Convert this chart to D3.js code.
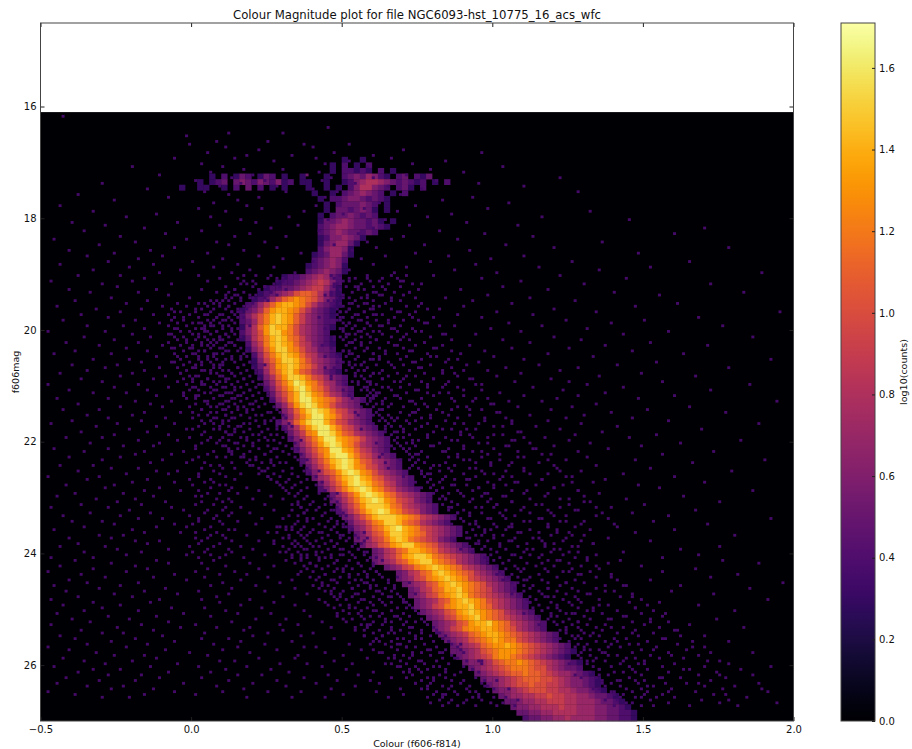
<!DOCTYPE html>
<html>
<head>
<meta charset="utf-8">
<script src="https://cdn.jsdelivr.net/npm/d3@7"></script>
<style>
  html, body { margin: 0; padding: 0; background: #fff; }
  svg { display: block; }
  text { font-family: "DejaVu Sans", sans-serif; fill: #111; }
  .tick text { font-size: 10px; }
  .tick line { stroke: #222; }
  .domain { display: none; }
</style>
</head>
<body>
<svg id="chart" width="912" height="749"></svg>
<script>
// Tick labels and ranges
var colourTicks = [-0.5, 0, 0.5, 1, 1.5, 2];
var magTicks = [16, 18, 20, 22, 24, 26];
var levelTicks = [0, 0.2, 0.4, 0.6, 0.8, 1, 1.2, 1.4, 1.6];
var colourRange = [-0.5, 2];
var magRange = [27, 14.505];
var levelRange = [0, 1.71];
var dataTop = 16.1;
// Colour level seen for a bin holding 1, 2, 3 stars
var countLevels = [0, 0.36, 0.55, 0.7];

// Scattered stars: one list per 0.05 mag row from dataTop down, colours in
// hundredths. A colour listed twice in a row is a bin with 2 counts.
var starRows = [
[],[-43],[],[],[],[45],[],[12,30],[-2],[],
[8,25],[-1,37,52],[11,40],[70,22],[5,47,96],[33,18,60],[-6,14,41,66],[27,84,52],[73,3,44],[-20,58,10,103],
[79,17,30],[6,90,42],[-11,71,20,38,38],[60,13,122,46],[1,81,24,43],[-30,54,95,16],[65,9,110,28],[40,-15,76],[128,4,48,31],[-38,69,12],
[93,-8,22,44],[-26,83,15],[7,105,62],[41,-44,74,18],[23,98,2,57],[132,-33,37,11,68],[-12,86,50],[78,-22,6,116,32],[145,16,64,45],[-40,91,-5,21],
[-29,72,9,108,35],[170,-16,26,60],[82,-36,3,42],[19,-9,97,160,55],[113,31,-24,14,70],[-46,66,-2,88],[24,136,-19,8,58],[77,-31,104,12,47],[-6,178,61,28,120],[92,-41,17,-14,53],
[36,-26,148,5,74],[110,-35,64,22,-10,85],[56,-18,30,99,10],[165,-28,79,0,40,126],[94,-44,15,60,-13],[27,-21,115,71,7,152],[135,-33,52,19,-4,87],[-11,189,34,67,13,101],[44,-38,122,2,80,-24],[58,-16,25,144,9,96,30],
[17,-47,69,28,109,5,-20,52],[130,-30,47,172,16,-7,76,21],[-25,63,24,11,103,54,20],[3,118,-41,55,22,-12,89,14],[183,-34,26,60,8,-18,140,72],[46,-8,155,98,14,62,19,11],[-27,84,20,-1,50,112,16,58],[127,-39,30,93,6,-15,66,12],[-22,161,57,4,106,18,52,9],[90,-45,24,147,-10,75,12,60],
[1,-32,120,60,27,82,-17,7,52],[195,-24,49,15,134,-6,69,101,13,57],[88,-37,21,54,9,113,-13,5,61],[17,-28,168,42,96,-3,73,8,49],[65,-43,25,124,7,150,-19,48,10,55],[105,-11,52,2,139,23,78,6,58],[-35,176,19,87,59,-23,116,10,4,63],[44,-16,99,13,131,67,-5,3,50],[26,-48,158,74,-29,109,56,4,8,62],[143,-20,51,11,83,-8,22,94,0,54],
[16,-36,70,186,-14,47,120,2,9,59],[61,-26,103,9,129,-2,86,28,5,47],[53,-42,20,152,-18,112,6,77,12,56],[14,-31,92,171,-10,43,137,68,3,7],[58,-22,125,25,-6,81,106,0,10,46],[50,-39,18,146,-15,97,72,4,52,11],[8,-46,118,64,163,-27,89,23,1,60],[100,-12,16,133,55,79,2,7,48,44],[27,-33,192,60,-21,110,5,85,13,62],[74,-17,19,154,-7,95,10,48,3,50],
[24,-40,141,52,-25,115,66,91,1,9,56],[15,-29,178,44,-11,76,128,7,104,0,47],[83,-35,21,122,-16,57,98,3,10,51],[13,-44,149,41,-20,109,-4,62,87,6,60],[54,-24,167,26,-9,135,71,9,101,2,46],[17,-37,119,80,-13,46,93,0,5,63,11],[28,-30,156,59,-5,125,69,11,107,3,53],[51,-48,22,185,-18,96,131,84,4,8,55],[14,-26,143,65,-8,113,43,78,0,10,58],[19,-41,172,56,-15,123,90,75,2,7,50],
[25,-33,137,48,-22,102,82,6,11,61,13],[16,-12,160,68,-3,128,110,60,9,1,52],[23,-45,148,53,-28,121,94,86,1,14,59,46],[12,-19,194,42,-7,116,105,73,27,4,57],[20,-38,134,58,-14,99,77,5,48,10,63],[15,-24,165,50,-10,126,88,108,-1,8,56],[18,-43,151,63,-31,119,92,81,3,11,47],[26,-16,177,47,-4,139,74,101,0,6,54],[21,-35,130,55,-20,112,85,11,2,60,49],[13,-28,146,66,-9,124,97,79,0,7,51],
[24,-40,158,45,-17,118,71,106,6,10,53,62],[19,-47,188,60,-25,129,87,95,-6,4,48],[16,-32,141,52,-12,114,76,103,2,9,64],[28,-21,169,49,-2,122,83,91,7,0,56],[14,-37,136,64,-15,109,70,4,11,58,45],[22,-26,154,57,-8,127,89,100,3,51,12],[18,-42,145,46,-30,117,78,93,-1,6,60],[25,-18,182,51,-5,125,86,107,5,9,43],[15,-34,162,61,-11,132,73,98,3,8,55],[20,-23,149,44,-13,120,80,104,10,1,66,52],
[27,-46,138,54,-28,113,67,90,1,12,48,60],[12,-36,173,59,-16,128,84,96,-3,7,50],[24,-19,156,48,-7,119,75,102,5,13,63,42],[17,-41,131,62,-24,108,88,8,2,54,11],[21,-30,190,53,-10,147,124,69,92,0,49],[26,-14,166,43,-2,115,77,99,13,4,58,64],[19,-44,134,56,-33,105,82,6,9,47,60],[10,-27,152,65,-18,121,72,94,3,51,14],[23,-38,179,50,-12,129,86,110,-5,7,62],[16,-22,143,58,-8,118,79,97,9,2,46],
[25,-48,160,45,-31,126,70,103,2,11,53,66],[14,-35,137,60,-15,116,83,91,-1,6,49,57],[28,-20,170,52,-6,133,74,107,7,4,63],[11,-42,148,63,-26,100,87,123,9,0,47],[18,-29,155,47,-11,120,76,95,6,13,55,70],[22,-16,186,55,-4,128,81,111,12,2,61,44],[15,-39,135,66,-23,98,89,5,9,50,58],[26,-45,163,49,-13,117,71,104,3,1,57,62],[20,-32,144,57,-19,125,84,93,8,12,46],[13,-25,175,61,-9,130,78,106,3,10,53,68],
[24,-37,150,44,-17,114,68,101,1,7,60,52,35],[16,-47,139,54,-28,122,85,96,-7,11,48,64,36],[27,-21,167,46,-3,127,75,109,10,5,58,33],[19,-34,146,62,-14,119,88,92,4,13,50,37],[12,-43,158,51,-24,134,73,103,-1,8,56,67,32],[23,-18,192,59,-10,116,80,99,7,2,64,38,30],[15,-40,153,48,-30,112,67,124,2,9,54,35,60],[21,-26,171,64,-6,129,86,94,10,0,50,34,70],[28,-36,141,50,-12,118,77,105,-2,6,62,37,31],[14,-46,160,56,-20,132,82,97,4,12,53,33,68],
[25,-16,147,43,-4,121,71,108,8,1,57,39,63],[18,-31,180,60,-23,126,83,100,6,10,49,36,71],[11,-41,138,52,-27,115,74,91,1,5,65,32,72,58],[22,-19,152,57,-11,123,87,106,3,13,46,38,69],[27,-38,133,62,-15,117,76,95,9,2,54,35,73],[16,-44,175,47,-29,128,79,102,-1,7,61,34,66,40],[20,-25,162,55,-8,120,89,111,5,12,50,37,75],[13,-36,143,64,-17,125,72,93,0,4,58,31,76,41],[24,-22,168,49,-2,116,84,107,6,11,53,38,74,33],[17,-47,156,61,-33,131,78,98,2,9,46,36,77,42],
[31,-12,142,7,176,-39,63,98,48,121],[-27,55,3,188,116,74,-8,39,19],[149,-44,27,92,11,60,-19,134,41],[5,-33,167,83,50,-15,108,22,70],[125,-22,36,61,-48,14,156,94,1],
[44,-6,181,77,-37,129,18,58,9,103],[-29,139,68,25,-13,91,52,4,172],[111,-41,33,16,152,80,-2,47,65],[-18,196,57,10,124,-35,88,29,72],[43,-46,144,6,99,21,-24,162,59],
[78,-9,118,34,-31,53,13,185,67],[-42,137,24,90,2,-16,61,159,46],[106,-26,74,12,173,38,-5,55,131],[30,-38,146,84,8,-20,66,117,49],[-11,191,57,19,100,-47,42,128,3],
[87,-33,155,27,63,-14,112,9,70],[-24,135,45,16,-43,79,168,34,94],[52,-7,121,4,-30,147,71,23,105],[-18,180,60,37,-36,11,96,133,82],[126,-45,26,-3,75,48,157,15,110],
[39,-28,143,68,6,-12,92,119,56],[-40,174,21,85,31,-21,50,103,138],[64,-8,128,13,-34,152,43,77,98],[-47,115,29,-17,58,165,1,88,35],[72,-25,139,46,8,-4,107,19,183],
[17,-37,95,54,-13,124,66,161,30],[-30,146,4,81,40,-23,113,25,76],[57,-10,132,-44,20,170,91,36,63],[-19,101,12,47,-39,156,74,3,122],[85,-27,141,33,-6,60,178,16,97],
[-35,118,52,24,-15,89,7,148,68],[41,-48,166,15,-22,105,71,37,130],[-9,153,79,28,-41,56,10,94,120],[62,-32,137,44,-1,186,19,83,109],[-26,128,5,73,-16,50,159,35,100],
[34,-43,116,58,-12,144,22,87,67],[-20,171,9,96,-36,47,131,76,14],[53,-5,125,29,-29,150,64,104,38],[-46,192,18,82,-14,69,112,2,43],[75,-24,135,51,-33,163,26,93,11],
[-8,147,32,60,-38,119,6,84,72],[45,-17,127,23,-28,175,99,55,15],[-42,110,66,37,-11,156,80,3,129],[28,-31,142,90,-19,59,12,117,48],[-3,168,74,20,-45,103,41,136,62],
[86,-23,122,8,-35,151,54,31,97],[-13,189,17,69,-27,46,114,78,133],[61,-48,140,25,-6,92,36,158,10],[-39,107,50,83,-16,177,1,124,70],[33,-21,149,65,-30,118,18,95,44]
];

// Denser stars hugging the sequence on both sides: one list per 0.05 mag row
// from wingTop down, same units as starRows
var wingTop = 19;
var wingRows = [
[17,26,21,66,49,58,71,46],[28,15,47,63,54,68,52],[20,30,59,45,70,50,62],[18,27,56,48,73,44,65],[24,29,51,69,47,60,55],[14,31,22,64,45,57,75,49],[26,12,17,53,67,46,61,72],[21,15,28,58,44,50,70,63],[11,24,19,13,48,66,56,74,52],[16,8,25,10,60,47,69,54,45],
[7,14,-5,20,2,64,49,76,53,58],[12,-2,17,5,9,47,71,55,62,50],[-7,15,3,11,18,59,48,66,78,52],[6,-4,13,1,16,51,74,57,49,68],[10,-8,4,14,-1,63,48,55,72,60],[2,12,-6,8,15,50,67,58,80,53],[-3,5,11,-7,13,56,49,70,61,75],[9,0,14,-5,3,52,65,77,50,58],[-2,7,12,-8,6,62,51,69,54,82],[4,-6,10,1,15,49,57,73,66,53],
[-4,8,13,-1,5,60,50,76,55,68],[2,-7,11,6,14,52,71,58,63,84],[9,-3,4,12,-6,56,49,66,79,51],[-5,7,1,15,10,61,54,72,50,69],[3,-2,13,-8,8,53,77,59,65,52],[11,5,-4,14,0,67,51,74,56,83],[-1,9,-7,6,16,54,62,70,58,80],[4,12,-3,2,15,50,73,57,64,86],[-6,10,7,17,0,60,53,78,52,68],[13,-2,5,-5,18,55,71,62,81,51],
[8,-4,16,2,11,59,54,69,76,88],[-1,14,6,-6,19,52,65,73,57,84],[10,3,17,-3,7,61,56,79,54,70],[15,-5,9,20,1,58,67,86,53,75],[4,12,-2,18,6,55,72,63,90,57],[16,8,-4,21,13,60,54,77,68,83],[1,19,10,-1,14,56,74,65,88,59],[12,5,22,-3,17,63,57,80,70,92],[7,15,0,20,9,58,76,55,67,85],[18,3,13,23,-2,61,72,59,94,78],
[6,21,11,16,1,57,69,83,63,88],[14,-1,24,8,19,60,74,58,96,66],[22,4,12,17,-3,62,78,59,85,71],[10,25,2,20,15,58,67,90,61,80],[18,7,23,-2,13,64,60,76,98,69],[5,16,26,11,21,59,72,87,63,93],[24,1,14,19,9,66,61,82,74,100],[12,27,6,22,17,60,78,65,91,70],[20,3,15,28,10,63,75,86,62,96],[8,25,18,13,29,61,69,83,102,73],
[23,11,30,5,16,65,62,79,92,72],[14,27,19,8,31,63,76,88,68,104],[26,3,21,12,29,67,64,84,97,74],[17,32,10,24,7,65,72,90,78,106],[28,15,22,33,12,69,66,81,100,76],[9,30,19,25,14,64,74,94,86,70],[31,17,34,11,23,68,80,67,108,89],[20,28,13,35,26,72,66,92,78,103],[33,16,24,10,30,70,84,68,98,110],[22,36,18,27,12,67,75,88,106,73],
[29,14,34,20,37,71,68,82,95,112],[17,31,25,38,11,74,69,90,79,105],[35,22,28,15,33,70,85,72,100,114],[19,39,26,13,30,76,71,93,83,108],[36,24,40,17,32,72,88,74,116,98],[21,34,28,41,16,78,73,96,85,110],[38,26,19,35,43,75,72,90,102,118],[23,31,42,18,29,77,84,74,106,94],[40,27,36,20,44,73,80,99,87,120],[25,33,46,22,38,79,75,92,110,85],
[30,42,24,37,47,76,82,96,122,104],[27,44,33,22,39,78,90,76,112,100],[41,29,48,35,25,84,77,94,106,124],[32,45,26,38,49,79,87,102,116,92],[43,31,50,28,36,82,78,98,126,108],[34,47,29,41,52,86,80,91,114,104],[46,33,38,53,30,83,79,100,120,95],[36,49,31,44,54,81,88,128,106,93],[48,35,42,55,32,85,80,97,118,110],[38,51,34,45,56,90,83,103,130,96],
[44,37,53,30,57,84,82,99,122,112],[40,55,35,48,58,92,86,106,132,98],[52,39,46,33,59,88,83,101,116,125],[42,57,36,50,60,86,94,110,134,100],[54,41,47,62,38,90,85,104,128,118],[44,59,37,52,63,96,88,112,136,102],[56,43,49,35,61,92,87,107,124,120],[46,60,40,54,64,89,98,115,138,104],[58,45,51,65,38,94,90,110,130,122],[48,62,42,55,66,100,92,118,140,106],
[33,51,44,29,47,106,95,118,101,127],[40,53,31,46,36,93,112,99,121,104],[28,48,35,52,42,109,97,125,91,115],[45,32,50,38,54,96,119,103,130,94],[37,55,30,43,49,113,92,107,100,124],
[51,34,46,27,41,98,116,129,105,95],[39,56,44,33,48,120,102,94,111,133],[30,47,53,36,42,97,108,126,92,117],[49,38,55,32,45,104,122,99,113,96],[43,35,52,29,57,110,93,128,101,119],
[41,57,36,50,46,99,123,106,134,112],[54,44,38,59,33,115,102,127,97,109],[36,52,48,42,58,105,131,100,118,122],[47,60,39,55,34,111,103,125,138,98],[56,41,51,37,45,120,107,101,129,114],
[38,53,59,43,48,104,135,117,110,126],[50,61,40,47,57,109,102,123,132,118],[44,55,35,52,62,128,106,115,101,139],[58,42,49,63,39,112,121,105,134,108],[46,60,54,41,56,103,127,116,110,141],
[52,65,43,58,48,118,108,130,106,124],[45,61,55,67,40,113,137,110,122,143],[59,47,53,64,42,107,126,118,134,112],[50,66,44,57,62,121,110,140,128,115],[63,49,68,54,46,116,109,132,124,146],
[53,69,47,60,65,127,112,120,142,118],[48,62,70,56,51,111,135,123,114,149],[66,55,44,59,71,119,129,112,145,125],[52,64,72,49,60,126,115,138,121,151],[68,58,54,73,47,113,133,118,128,147],
[61,74,50,66,56,122,116,141,131,153],[55,70,63,75,52,119,136,124,149,127],[72,59,48,67,62,115,130,121,144,156],[57,76,64,53,69,125,118,139,152,132],[74,60,51,71,66,120,128,146,123,158],
[63,78,56,70,59,131,121,150,137,126],[58,73,66,80,54,124,143,128,155,134],[76,62,69,57,81,122,136,160,129,147],[65,82,60,72,67,133,124,141,153,130],[79,57,74,63,84,126,148,135,162,128],
[68,83,61,76,70,129,140,127,157,144],[62,80,72,85,66,137,125,151,134,166],[77,64,86,69,59,131,145,128,161,139],[71,88,66,81,74,127,138,154,142,170],[84,60,78,68,89,135,130,149,164,132],
[73,90,63,82,76,129,146,136,158,172],[67,86,79,92,70,141,132,152,138,168],[88,72,65,83,94,134,129,147,163,155],[75,91,81,69,95,137,150,133,175,143],[85,71,96,77,66,131,142,160,148,178],
[80,98,74,90,68,139,133,156,145,170],[72,93,84,100,78,146,135,151,165,182],[89,76,70,95,102,132,143,158,140,174],[82,99,87,73,104,138,149,135,168,186],[94,78,106,84,71,134,155,145,162,177],
[86,101,76,97,80,141,136,150,172,147],[79,96,89,107,74,148,139,164,157,188],[92,83,78,103,98,137,153,142,170,180],[85,105,91,76,100,144,135,159,149,176],[98,81,94,87,108,139,151,167,146,191],
[88,106,80,95,84,150,140,156,173,143],[83,100,93,78,104,142,160,147,184,154],[96,86,108,82,91,137,152,169,141,178],[90,103,85,99,79,146,158,144,175,194],[101,88,94,107,83,140,149,165,153,181]
];

// Cluster sequence: 0.02 colour by 0.1 mag cells, one string per row from
// coreTop down. coreStarts gives the colour of the first cell in each row.
// Each character is log10(counts+1) in tenths, base 18.
var coreTop = 16.9;
var coreStarts = [
0.50,0.46,0.46,0.06,0.02,-0.04,0.40,0.42,0.44,0.44,
0.42,0.42,0.42,0.42,0.42,0.42,0.42,0.40,0.40,0.38,
0.38,0.30,0.28,0.24,0.22,0.20,0.18,0.16,0.16,0.16,
0.16,0.16,0.16,0.18,0.18,0.20,0.20,0.20,0.22,0.22,
0.24,0.24,0.26,0.26,0.28,0.30,0.30,0.28,0.30,0.32,
0.32,0.34,0.34,0.36,0.36,0.38,0.38,0.40,0.42,0.42,
0.46,0.46,0.48,0.48,0.50,0.52,0.52,0.54,0.54,0.56,
0.60,0.60,0.60,0.64,0.68,0.68,0.70,0.72,0.72,0.74,
0.74,0.76,0.78,0.80,0.80,0.82,0.84,0.86,0.86,0.88,
0.90,0.92,0.94,0.96,0.98,1.00,1.02,1.04,1.06,1.08,
1.10
];
var coreRows = [
"3003",
"3040304",
"30443430403",
"3040354035403003000300456576430450435",
"303450565465463403300300346788765454340304",
"30033003040504030300030030304688654045304",
"3003045676540304",
"304456654543",
"30455565403",
"30554565303",
"3045565454",
"3556765545303",
"456776554543",
"4567655454",
"34667653",
"3567753",
"467763",
"34577530",
"456764",
"34567630",
"4567653",
"3445678754",
"34456789864",
"3445567899753",
"345678abba8643",
"34579bcdcba8653",
"4579bdeedca86543",
"3568bdeedca86543",
"468acefedb976543",
"457acefedb976544",
"368bdfeeca876543",
"468adffdca87654",
"358acefecb976543",
"479cefedb986543",
"368bdffdca87554",
"47acefedb986543",
"369bdffeca87654",
"358adefecb97654",
"47acefdba87543",
"368bdffeca97654",
"57acegfdca8754",
"469bdfgecb97654",
"58acegfdca8754",
"479ceggedcb97654",
"57adfgfdca8765",
"68bdfgfeca97654",
"57aceggedb98654",
"468bdfggeca97654",
"468bdfggeca97654",
"579cdggfdba87654",
"468aceggedcb97654",
"579bdfgfdca87654",
"468acdggedb98654",
"579bdfggeca97654",
"468acefgfdba87654",
"579bdfgfdca97654",
"468abdfgfdca87654",
"578acefgedba87654",
"579bdfgfecb98654",
"468acefgfdca97654",
"579bdfgfecb987654",
"568acefgfdca98654",
"579bdfffecb987654",
"468acefgfdca98654",
"568acefffedcb987654",
"578acdffecba87654",
"4679bcefgedca987654",
"568abdffedcb987654",
"5679acefecba98654",
"578abdeffdcba87654",
"5689bceedcb987654",
"5689bdeffecba987654",
"5678abdeffdcba87654",
"5679acdefedcb987654",
"5689bcefedcba87654",
"5679acdefedca987654",
"5678abdefedcba87654",
"5689bceefdcba97654",
"5679acdefecba987654",
"5678abdefedca987654",
"5679acdeefdcb987654",
"5678abdefedcba87654",
"5679acdefdcba987654",
"5678abdeefdcb987654",
"5679acddeedcba87654",
"56789bcdeedcba987654",
"5678abcdedcca987654",
"56789bcddedcba987654",
"55678abcdddcba9876543",
"56789acddcba9876543",
"56678abccdcba9876543",
"56789abcccbaa876554",
"56789abbcbba98776543",
"566789abbbaa98766543",
"56789aabaa998766543",
"566789aaa9988766543",
"56778899a99887765543",
"55677889998877765543",
"56677888988777665543",
"55667788887776655443",
"4556677877776655443"
];

var margin = { left: 40.5, right: 793.5, top: 23, bottom: 721 };
var bar = { left: 841, right: 875 };

var svg = d3.select("#chart");
var x = d3.scaleLinear().domain(colourRange).range([margin.left, margin.right]);
var y = d3.scaleLinear().domain(magRange).range([margin.bottom, margin.top]);
var colour = d3.scaleSequential(d3.interpolateInferno).domain(levelRange);
var barY = d3.scaleLinear().domain(levelRange).range([margin.bottom, margin.top]);

// Empty bins are the bottom of the colour map
svg.append("rect")
  .attr("x", margin.left)
  .attr("y", y(dataTop))
  .attr("width", margin.right - margin.left)
  .attr("height", margin.bottom - y(dataTop))
  .attr("fill", colour(0));

// Cluster cells
var cells = [];
coreRows.forEach(function(row, i) {
  row.split("").forEach(function(ch, j) {
    var level = parseInt(ch, 18) / 10;
    if (level > 0) {
      cells.push({ colour: coreStarts[i] + j * 0.02, mag: coreTop + i * 0.1, level: level });
    }
  });
});

svg.append("g").selectAll("rect")
  .data(cells)
  .enter()
  .append("rect")
  .attr("x", function(d) { return x(d.colour); })
  .attr("y", function(d) { return y(d.mag); })
  .attr("width", x(0.02) - x(0) + 0.3)
  .attr("height", y(0.1) - y(0) + 0.3)
  .attr("fill", function(d) { return colour(d.level); });

// Scattered stars, counted per bin
var stars = [];
function addStars(rows, top) {
  rows.forEach(function(row, i) {
    d3.rollups(row, function(v) { return v.length; }, function(c) { return c; })
      .forEach(function(d) {
        stars.push({ colour: d[0] / 100, mag: top + i * 0.05, level: countLevels[Math.min(d[1], 3)] });
      });
  });
}
addStars(starRows, dataTop);
addStars(wingRows, wingTop);

// A star only shows where it is brighter than the cell it falls on
function cellLevel(s) {
  var i = Math.floor((s.mag - coreTop) / 0.1);
  if (i < 0 || i >= coreRows.length) return 0;
  var j = Math.floor((s.colour - coreStarts[i]) / 0.02);
  var ch = coreRows[i][j];
  return ch ? parseInt(ch, 18) / 10 : 0;
}

svg.append("g").selectAll("rect")
  .data(stars.filter(function(s) { return s.mag < 27 && cellLevel(s) < 0.7; }))
  .enter()
  .append("rect")
  .attr("x", function(d) { return x(d.colour); })
  .attr("y", function(d) { return y(d.mag); })
  .attr("width", x(0.01) - x(0))
  .attr("height", y(0.05) - y(0))
  .attr("fill", function(d) { return colour(d.level); });

// Axes, classic ticks pointing inwards on all sides
svg.append("g")
  .attr("transform", "translate(0," + margin.bottom + ")")
  .call(d3.axisBottom(x).tickValues(colourTicks).tickFormat(d3.format(".1f")).tickSizeInner(-4).tickSizeOuter(0).tickPadding(5));
svg.append("g")
  .attr("transform", "translate(0," + margin.top + ")")
  .call(d3.axisTop(x).tickValues(colourTicks).tickFormat("").tickSizeInner(-4).tickSizeOuter(0));
svg.append("g")
  .attr("transform", "translate(" + margin.left + ",0)")
  .call(d3.axisLeft(y).tickValues(magTicks).tickFormat(d3.format("d")).tickSizeInner(-4).tickSizeOuter(0).tickPadding(4));
svg.append("g")
  .attr("transform", "translate(" + margin.right + ",0)")
  .call(d3.axisRight(y).tickValues(magTicks).tickFormat("").tickSizeInner(-4).tickSizeOuter(0));

svg.append("rect")
  .attr("x", margin.left)
  .attr("y", margin.top)
  .attr("width", margin.right - margin.left)
  .attr("height", margin.bottom - margin.top)
  .attr("fill", "none")
  .attr("stroke", "#444");

svg.append("text")
  .attr("x", 417)
  .attr("y", 19)
  .attr("text-anchor", "middle")
  .style("font-size", "11.7px")
  .text("Colour Magnitude plot for file NGC6093-hst_10775_16_acs_wfc");
svg.append("text")
  .attr("x", 417)
  .attr("y", 747)
  .attr("text-anchor", "middle")
  .style("font-size", "9.5px")
  .text("Colour (f606-f814)");
svg.append("text")
  .attr("transform", "translate(19,372) rotate(-90)")
  .attr("text-anchor", "middle")
  .style("font-size", "9.5px")
  .text("f606mag");

// Colour bar
var gradient = svg.append("defs").append("linearGradient")
  .attr("id", "barFill")
  .attr("x1", 0).attr("y1", 1).attr("x2", 0).attr("y2", 0);
gradient.selectAll("stop")
  .data(d3.range(0, 1.001, 0.02))
  .enter()
  .append("stop")
  .attr("offset", function(d) { return d; })
  .attr("stop-color", function(d) { return d3.interpolateInferno(d); });

svg.append("rect")
  .attr("x", bar.left)
  .attr("y", margin.top)
  .attr("width", bar.right - bar.left)
  .attr("height", margin.bottom - margin.top)
  .attr("fill", "url(#barFill)")
  .attr("stroke", "#444");

svg.append("g")
  .attr("transform", "translate(" + bar.right + ",0)")
  .call(d3.axisRight(barY).tickValues(levelTicks).tickFormat(d3.format(".1f")).tickSizeInner(-3).tickSizeOuter(0).tickPadding(4));

svg.append("text")
  .attr("transform", "translate(907,372) rotate(-90)")
  .attr("text-anchor", "middle")
  .style("font-size", "9.5px")
  .text("log10(counts)");
</script>
</body>
</html>
